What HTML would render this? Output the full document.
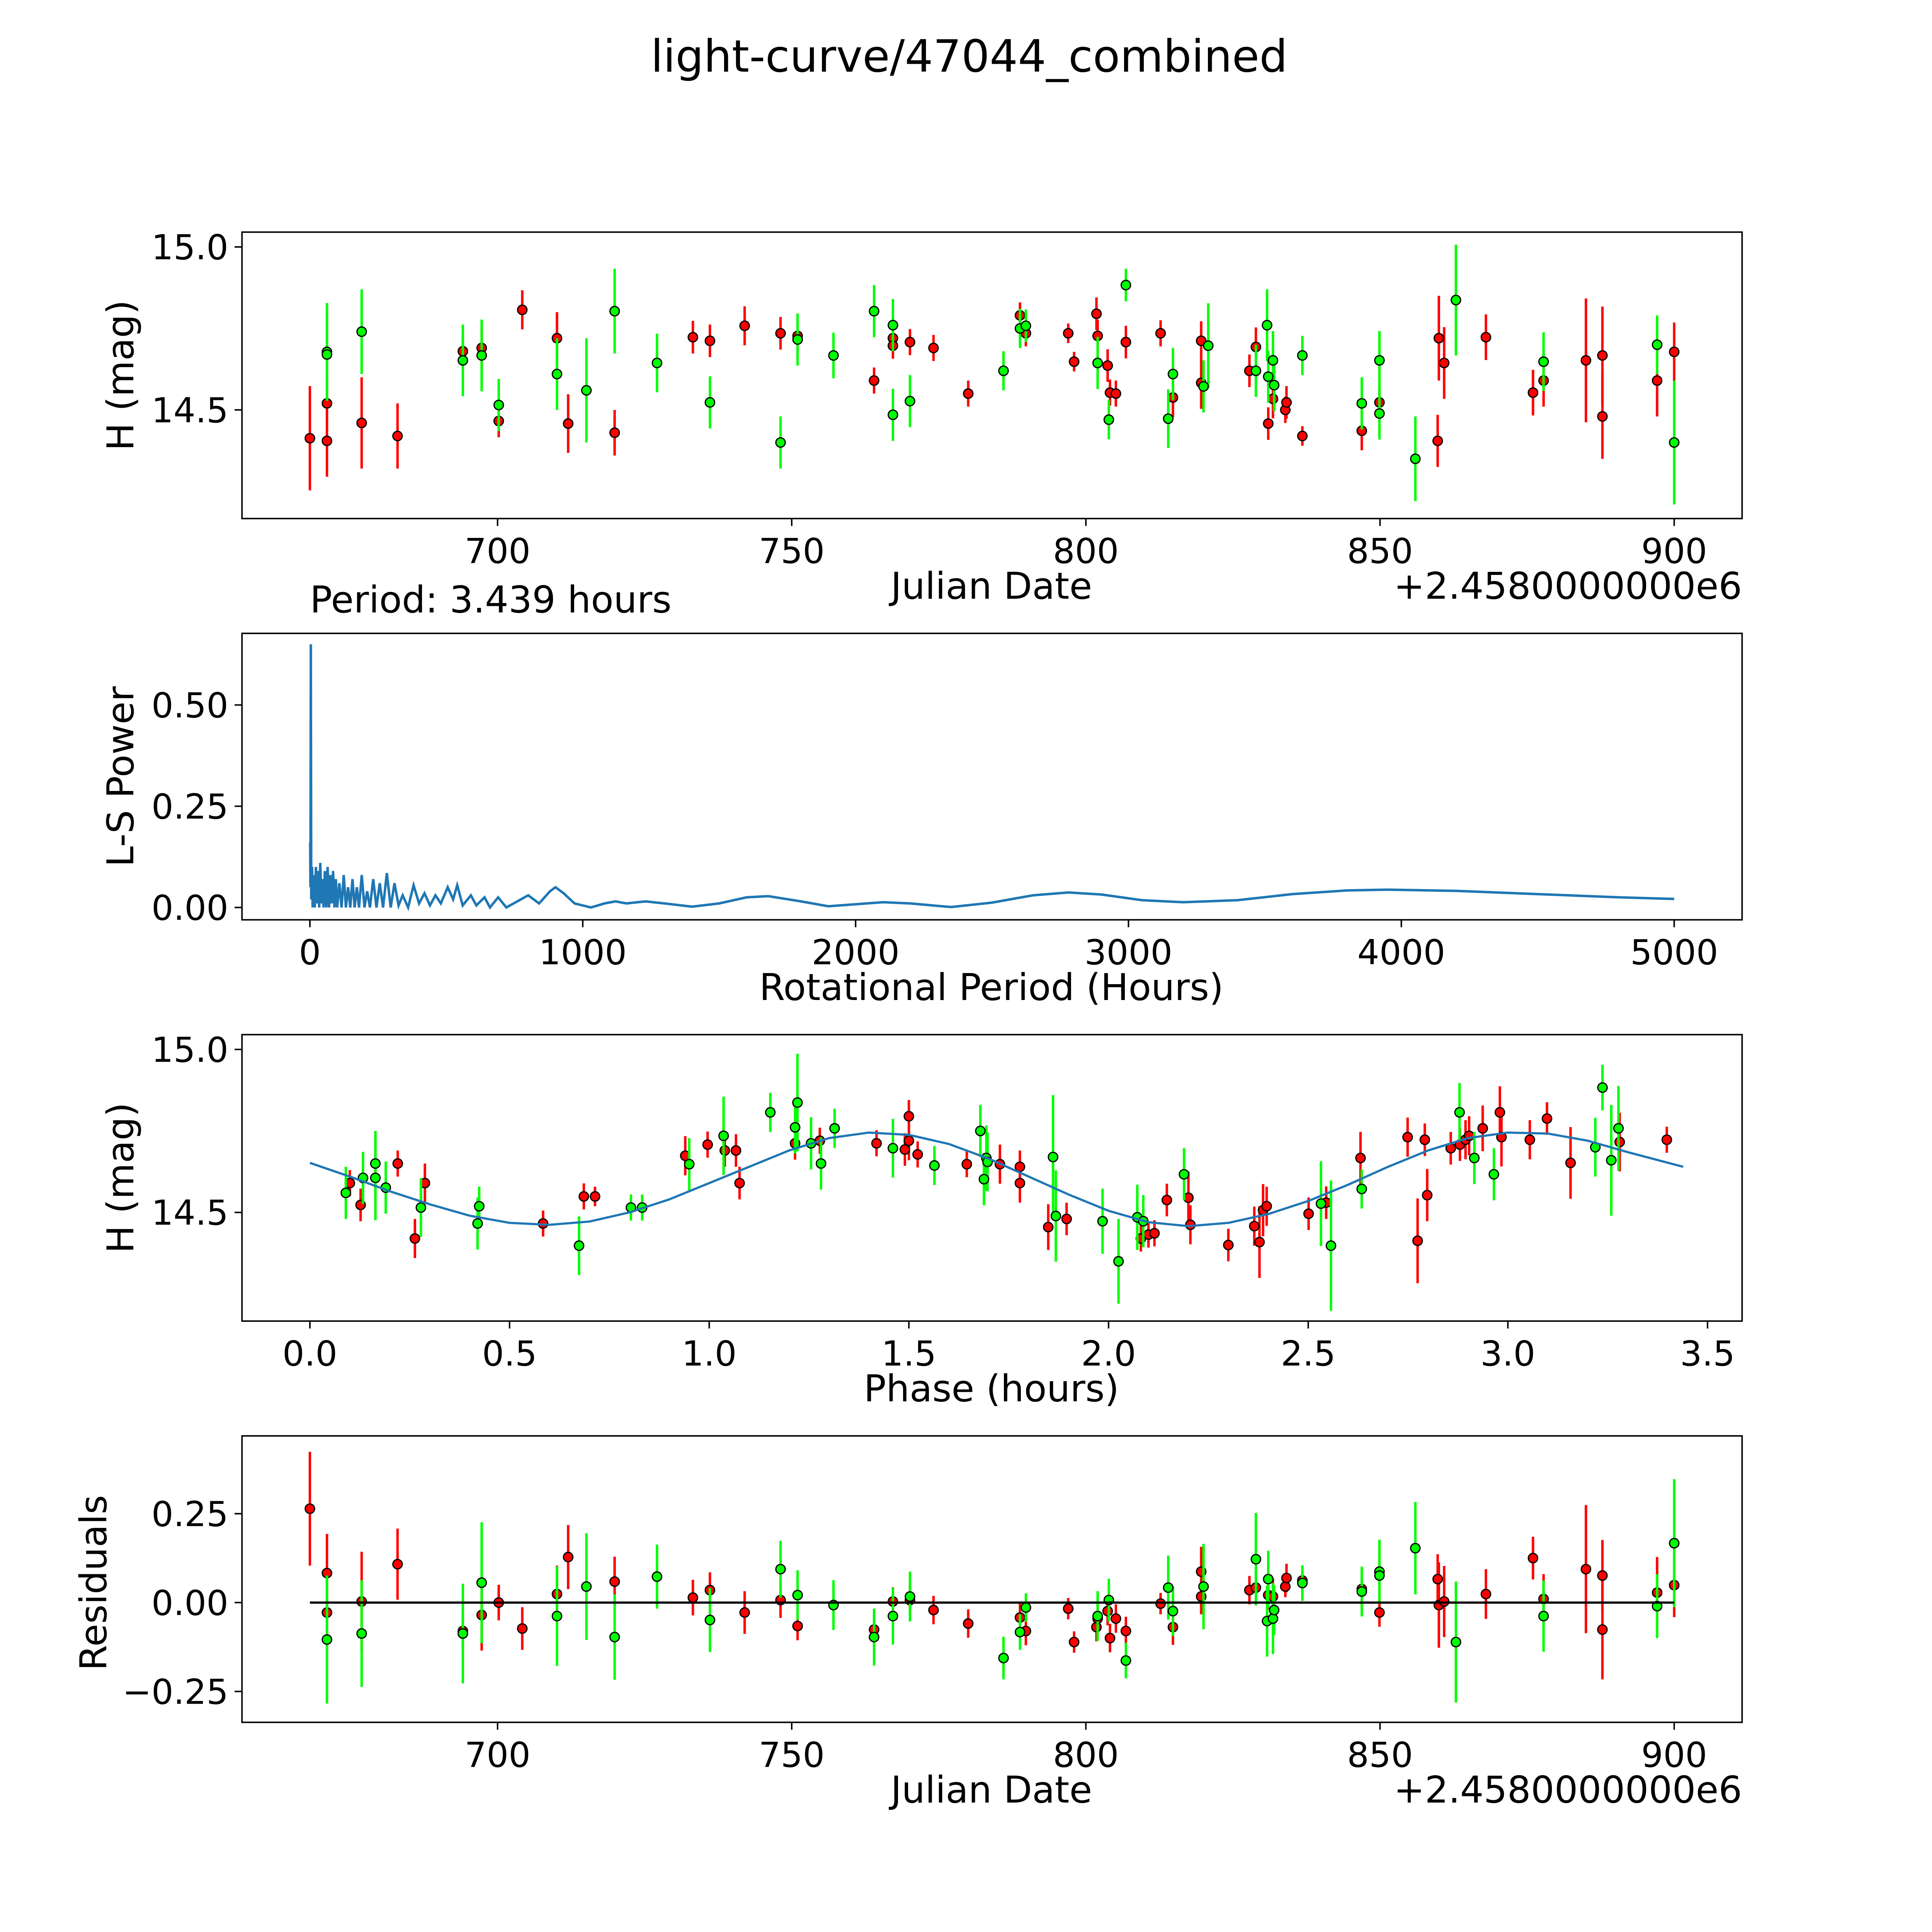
<!DOCTYPE html>
<html><head><meta charset="utf-8"><style>
html,body{margin:0;padding:0;background:#fff;overflow:hidden;width:5400px;height:5400px}
svg{display:block}
text{font-family:"DejaVu Sans","Liberation Sans",sans-serif;fill:#000}
</style></head><body>
<svg id="fig" width="5400" height="5400" viewBox="0 0 1690 1690" xmlns="http://www.w3.org/2000/svg">
<rect width="1690" height="1690" fill="#fff"/>
<text x="785" y="58" font-size="36" text-anchor="middle">light-curve/47044_combined</text>
</svg>
<script>
// ---------- data ----------
const lcRedJD=[668.1,671.0,671.0,676.9,683.0,694.1,697.3,700.2,704.2,710.1,712.0,719.9,733.2,736.1,742.0,748.1,751.0,764.0,767.2,767.2,770.1,774.1,780.0,788.8,789.8,797.0,798.0,801.8,802.0,803.7,804.1,805.1,806.8,812.7,814.8,819.6,819.6,827.8,828.9,831.0,831.8,833.9,834.1,836.8,846.9,849.9,859.8,860.0,860.9,868.0,876.0,877.8,885.0,887.8,887.8,897.1,900.0];
const lcRedMag=[14.413,14.52,14.405,14.46,14.42,14.68,14.69,14.466,14.807,14.72,14.458,14.43,14.723,14.712,14.758,14.735,14.727,14.59,14.72,14.697,14.708,14.69,14.55,14.79,14.735,14.735,14.648,14.795,14.727,14.636,14.553,14.55,14.708,14.735,14.538,14.712,14.583,14.62,14.693,14.458,14.534,14.5,14.523,14.42,14.436,14.523,14.405,14.72,14.644,14.723,14.553,14.59,14.652,14.667,14.48,14.59,14.678];
const lcRedErr=[0.16,0.08,0.11,0.14,0.1,0.06,0.06,0.05,0.06,0.08,0.09,0.07,0.05,0.05,0.06,0.05,0.04,0.04,0.04,0.04,0.04,0.04,0.04,0.04,0.04,0.03,0.03,0.05,0.05,0.05,0.04,0.04,0.05,0.04,0.06,0.06,0.08,0.05,0.06,0.05,0.06,0.04,0.05,0.03,0.06,0.05,0.08,0.13,0.11,0.07,0.07,0.08,0.19,0.15,0.13,0.11,0.09];
const lcGreenJD=[671.0,671.0,676.9,694.1,697.3,700.2,710.1,715.1,719.9,727.1,736.1,748.1,751.0,757.1,764.0,767.2,767.2,770.1,786.0,788.8,789.8,802.0,803.9,806.8,814.0,814.8,820.0,820.8,828.9,830.8,831.0,831.8,832.0,836.8,846.9,849.9,849.9,856.0,862.9,877.8,897.1,900.0];
const lcGreenMag=[14.678,14.67,14.74,14.652,14.667,14.515,14.61,14.56,14.803,14.644,14.523,14.40,14.716,14.667,14.803,14.76,14.485,14.527,14.62,14.75,14.758,14.644,14.47,14.883,14.473,14.61,14.572,14.697,14.62,14.76,14.602,14.652,14.576,14.667,14.52,14.652,14.489,14.35,14.837,14.648,14.70,14.40];
const lcGreenErr=[0.15,0.14,0.13,0.11,0.11,0.08,0.11,0.16,0.13,0.09,0.08,0.08,0.08,0.07,0.08,0.08,0.08,0.08,0.06,0.06,0.05,0.08,0.06,0.05,0.09,0.08,0.08,0.13,0.08,0.11,0.08,0.09,0.08,0.06,0.08,0.09,0.08,0.13,0.17,0.09,0.09,0.19];

const lsPeriod=[1,2,3.439,5,8,10,14,18,22,26,30,34,38,42,46,50,55,60,65,70,75,80,85,90,95,100,108,116,124,132,140,148,156,164,172,180,190,200,210,220,232,244,256,268,282,296,310,325,340,360,380,400,420,440,460,480,505,525,540,560,590,610,640,660,690,720,760,800,840,880,900,930,970,1030,1080,1120,1160,1230,1300,1400,1500,1600,1680,1800,1900,2000,2100,2200,2350,2500,2650,2780,2900,3050,3200,3400,3600,3800,3950,4200,4500,4800,5000];
const lsPower=[0.16,0.05,0.65,0.02,0.1,0.0,0.08,0.0,0.1,0.01,0.09,0.0,0.11,0.01,0.07,0.0,0.09,0.0,0.1,0.0,0.08,0.01,0.09,0.0,0.07,0.0,0.06,0.0,0.08,0.0,0.05,0.0,0.07,0.0,0.05,0.0,0.08,0.0,0.04,0.0,0.07,0.0,0.06,0.0,0.085,0.0,0.06,0.005,0.03,0.0,0.055,0.01,0.035,0.005,0.03,0.01,0.05,0.02,0.055,0.005,0.03,0.005,0.025,0.0,0.025,0.0,0.015,0.03,0.01,0.04,0.05,0.035,0.01,0.0,0.01,0.015,0.01,0.015,0.01,0.002,0.01,0.025,0.028,0.015,0.003,0.008,0.013,0.01,0.001,0.012,0.03,0.037,0.032,0.018,0.013,0.018,0.033,0.042,0.044,0.041,0.033,0.025,0.021];

const phRedX=[0.10,0.127,0.22,0.263,0.288,0.584,0.686,0.714,0.94,0.996,1.039,1.067,1.076,1.215,1.277,1.419,1.49,1.5,1.5,1.522,1.645,1.728,1.778,1.778,1.849,1.895,2.081,2.1,2.115,2.146,2.2,2.205,2.3,2.365,2.378,2.387,2.396,2.501,2.545,2.631,2.749,2.774,2.792,2.798,2.857,2.88,2.894,2.903,2.937,2.98,2.984,3.055,3.098,3.157,3.28,3.398];
const phRedMag=[14.59,14.523,14.65,14.42,14.59,14.466,14.549,14.549,14.674,14.708,14.69,14.69,14.59,14.712,14.72,14.712,14.693,14.795,14.72,14.678,14.648,14.648,14.64,14.59,14.455,14.48,14.42,14.432,14.436,14.538,14.545,14.462,14.4,14.458,14.409,14.507,14.519,14.496,14.53,14.667,14.731,14.413,14.723,14.553,14.697,14.708,14.723,14.735,14.758,14.807,14.731,14.723,14.788,14.652,14.716,14.723];
const phRedErr=[0.04,0.05,0.04,0.06,0.06,0.04,0.04,0.03,0.06,0.04,0.05,0.05,0.05,0.05,0.04,0.04,0.05,0.05,0.06,0.04,0.04,0.06,0.05,0.06,0.07,0.05,0.04,0.04,0.04,0.05,0.08,0.06,0.05,0.06,0.11,0.08,0.06,0.05,0.05,0.08,0.06,0.13,0.05,0.08,0.05,0.05,0.06,0.06,0.07,0.08,0.09,0.06,0.05,0.11,0.09,0.04];
const phGreenX=[0.09,0.133,0.164,0.164,0.19,0.278,0.424,0.42,0.674,0.804,0.832,0.95,1.036,1.153,1.215,1.221,1.255,1.28,1.314,1.46,1.564,1.679,1.688,1.694,1.697,1.861,1.868,1.985,2.025,2.072,2.087,2.189,2.532,2.557,2.634,2.879,2.916,2.965,3.219,3.237,3.259,3.277];
const phGreenMag=[14.56,14.606,14.65,14.606,14.576,14.515,14.519,14.466,14.398,14.515,14.515,14.648,14.735,14.807,14.761,14.837,14.712,14.65,14.758,14.697,14.644,14.75,14.602,14.667,14.655,14.67,14.489,14.473,14.35,14.485,14.473,14.617,14.527,14.398,14.572,14.807,14.667,14.617,14.70,14.883,14.66,14.758];
const phGreenErr=[0.08,0.08,0.1,0.13,0.08,0.09,0.06,0.08,0.09,0.04,0.04,0.08,0.12,0.06,0.08,0.15,0.08,0.08,0.06,0.09,0.06,0.08,0.08,0.1,0.09,0.19,0.14,0.1,0.13,0.1,0.08,0.08,0.13,0.2,0.06,0.09,0.08,0.08,0.09,0.07,0.17,0.13];

const fitPhase=[0.0,0.1,0.2,0.3,0.4,0.5,0.6,0.7,0.8,0.9,1.0,1.1,1.2,1.3,1.4,1.5,1.6,1.7,1.8,1.9,2.0,2.1,2.2,2.3,2.4,2.5,2.6,2.7,2.8,2.9,3.0,3.1,3.2,3.3,3.439];
const fitMag=[14.652,14.61,14.565,14.525,14.49,14.468,14.462,14.472,14.5,14.54,14.59,14.64,14.69,14.728,14.745,14.738,14.71,14.665,14.61,14.555,14.505,14.47,14.458,14.468,14.495,14.535,14.585,14.64,14.69,14.728,14.745,14.742,14.72,14.685,14.64];

const resRedJD=[668.1,671.0,671.0,676.9,683.0,694.1,697.3,700.2,704.2,710.1,712.0,719.9,733.2,736.1,742.0,748.1,751.0,764.0,767.2,770.1,774.1,780.0,788.8,789.8,797.0,798.0,801.8,802.0,803.7,804.1,805.1,806.8,812.7,814.8,819.6,819.6,827.8,828.9,831.0,831.8,833.9,834.1,836.8,846.9,849.9,859.8,860.0,860.9,868.0,876.0,877.8,885.0,887.8,887.8,897.1,900.0];
const resRedVal=[0.264,0.083,-0.028,0.003,0.108,-0.08,-0.035,0.0,-0.073,0.024,0.128,0.059,0.014,0.035,-0.028,0.007,-0.066,-0.076,0.003,0.007,-0.021,-0.059,-0.042,-0.08,-0.017,-0.111,-0.069,-0.045,-0.024,-0.1,-0.045,-0.08,-0.003,-0.069,0.087,0.017,0.035,0.042,0.021,0.017,0.045,0.069,0.062,0.038,-0.028,0.066,-0.007,0.003,0.024,0.125,0.01,0.094,0.076,-0.076,0.028,0.049];
const resRedErr=[0.16,0.11,0.1,0.14,0.1,0.06,0.1,0.05,0.06,0.08,0.09,0.07,0.05,0.05,0.06,0.05,0.04,0.04,0.04,0.04,0.04,0.04,0.04,0.04,0.03,0.03,0.04,0.04,0.04,0.04,0.04,0.04,0.03,0.05,0.07,0.05,0.04,0.05,0.04,0.05,0.03,0.04,0.03,0.05,0.04,0.07,0.12,0.1,0.07,0.06,0.07,0.18,0.1,0.14,0.1,0.09];
const resGreenJD=[671.0,676.9,694.1,697.3,710.1,715.1,719.9,727.1,736.1,748.1,751.0,757.1,764.0,767.2,770.1,786.0,788.8,789.8,802.0,803.9,806.8,814.0,814.8,820.0,828.9,830.8,831.0,831.8,832.0,836.8,846.9,849.9,849.9,856.0,862.9,877.8,897.1,900.0];
const resGreenVal=[-0.104,-0.087,-0.087,0.056,-0.038,0.045,-0.097,0.073,-0.049,0.094,0.021,-0.007,-0.097,-0.038,0.017,-0.156,-0.083,-0.014,-0.038,0.007,-0.163,0.042,-0.024,0.045,0.122,-0.052,0.066,-0.045,-0.021,0.055,0.031,0.087,0.076,0.153,-0.111,-0.038,-0.010,0.167];
const resGreenErr=[0.18,0.15,0.14,0.17,0.14,0.15,0.12,0.09,0.09,0.08,0.07,0.07,0.08,0.08,0.07,0.06,0.05,0.04,0.07,0.06,0.05,0.09,0.07,0.12,0.13,0.1,0.08,0.1,0.07,0.05,0.07,0.09,0.08,0.13,0.17,0.1,0.09,0.18];

const jdTicks=[700,750,800,850,900];
const lcYTicks=[14.5,15.0];
const lsXTicks=[0,1000,2000,3000,4000,5000];
const lsYTicks=[0,0.25,0.5];
const phXTicks=[0,0.5,1.0,1.5,2.0,2.5,3.0,3.5];
const resYTicks=[-0.25,0,0.25];

// ---------- drawing ----------
const NS='http://www.w3.org/2000/svg';
const svg=document.getElementById('fig');
function mk(tag,attrs,parent){const e=document.createElementNS(NS,tag);for(const k in attrs)e.setAttribute(k,attrs[k]);(parent||svg).appendChild(e);return e;}
function lin(d0,d1,p0,p1){return v=>p0+(v-d0)*(p1-p0)/(d1-d0);}
const L=196,R=1411;
function frame(g,top,bot){
  const r=mk('rect',{x:L,y:top,width:R-L,height:bot-top,fill:'none',stroke:'#000','stroke-width':1.2},g);
  
  
}
function xticks(g,ticks,sx,bot,fmt){
  ticks.forEach(t=>{
    const x=sx(t);
    const l=mk('line',{x1:x,x2:x,y1:bot,y2:bot+6,stroke:'#000','stroke-width':1.2},g);
    
    
    const tx=mk('text',{x:x,y:bot+36,'font-size':28,'text-anchor':'middle'},g);
    tx.textContent=fmt(t);
    
    
  });
}
function yticks(g,ticks,sy,fmt){
  ticks.forEach(t=>{
    const y=sy(t);
    const l=mk('line',{x1:L-6,x2:L,y1:y,y2:y,stroke:'#000','stroke-width':1.2},g);
    
    
    const tx=mk('text',{x:L-11,y:y+10,'font-size':28,'text-anchor':'end'},g);
    tx.textContent=fmt(t);
    
    
  });
}
function label(g,txt,x,y,rot,name,anchor){
  const t=mk('text',{x:x,y:y,'font-size':30,'text-anchor':anchor||'middle'},g);
  if(rot)t.setAttribute('transform','rotate(-90 '+x+' '+y+')');
  t.textContent=txt;
  
  
}
function points(g,xs,ys,es,sx,sy,color,name){
  xs.forEach((v,i)=>{
    const x=sx(v);
    const eb=mk('line',{x1:x,x2:x,y1:sy(ys[i]-es[i]),y2:sy(ys[i]+es[i]),stroke:color,'stroke-width':2},g);
    
    
  });
  xs.forEach((v,i)=>{
    const c=mk('circle',{cx:sx(v),cy:sy(ys[i]),r:3.8,fill:color,stroke:'#000','stroke-width':1},g);
    
    
  });
}
const f1=v=>v.toFixed(1), f0=v=>String(v), f2=v=>(v<0?'\u2212':'')+Math.abs(v).toFixed(2);

// Panel 1
{
  const g=mk('g',{});
  
  
  const sx=lin(700,900,403,1356), sy=lin(14.5,15.0,332,200);
  points(g,lcRedJD,lcRedMag,lcRedErr,sx,sy,'#ff0000','red-filter');
  points(g,lcGreenJD,lcGreenMag,lcGreenErr,sx,sy,'#00ff00','green-filter');
  frame(g,188,420);
  xticks(g,jdTicks,sx,420,f0);
  yticks(g,lcYTicks,sy,f1);
  label(g,'Julian Date',803,485,false,'x-axis-title');
  label(g,'+2.4580000000e6',1411,485,false,'x-axis-offset','end');
  label(g,'H (mag)',108,304,true,'y-axis-title');
}
// Panel 2
{
  const g=mk('g',{});
  
  
  const sx=lin(0,5000,251,1356), sy=lin(0,0.5,735,571);
  const d=lsPeriod.map((p,i)=>(i?'L':'M')+sx(p).toFixed(2)+' '+sy(lsPower[i]).toFixed(2)).join(' ');
  const p=mk('path',{d:d,fill:'none',stroke:'#1f77b4','stroke-width':2},g);
  
  
  frame(g,513,745);
  xticks(g,lsXTicks,sx,745,f0);
  yticks(g,lsYTicks,sy,f2);
  label(g,'Rotational Period (Hours)',803,810,false,'x-axis-title');
  label(g,'L-S Power',108,629,true,'y-axis-title');
  label(g,'Period: 3.439 hours',251,496,false,'period-annotation','start');
}
// Panel 3
{
  const g=mk('g',{});
  
  
  const sx=lin(0,3.5,251,1383), sy=lin(14.5,15.0,982,850);
  points(g,phRedX,phRedMag,phRedErr,sx,sy,'#ff0000','red-filter');
  points(g,phGreenX,phGreenMag,phGreenErr,sx,sy,'#00ff00','green-filter');
  const d=fitPhase.map((p,i)=>(i?'L':'M')+sx(p).toFixed(2)+' '+sy(fitMag[i]).toFixed(2)).join(' ');
  const p=mk('path',{d:d,fill:'none',stroke:'#1f77b4','stroke-width':1.8},g);
  
  
  frame(g,838,1070);
  xticks(g,phXTicks,sx,1070,f1);
  yticks(g,lcYTicks,sy,f1);
  label(g,'Phase (hours)',803,1135,false,'x-axis-title');
  label(g,'H (mag)',108,954,true,'y-axis-title');
}
// Panel 4
{
  const g=mk('g',{});
  
  
  const sx=lin(700,900,403,1356), sy=lin(0,0.25,1298,1226);
  points(g,resRedJD,resRedVal,resRedErr,sx,sy,'#ff0000','red-filter');
  points(g,resGreenJD,resGreenVal,resGreenErr,sx,sy,'#00ff00','green-filter');
  const z=mk('line',{x1:sx(668.1),x2:sx(900),y1:sy(0),y2:sy(0),stroke:'#000','stroke-width':1.8},g);
  
  
  frame(g,1163,1395);
  xticks(g,jdTicks,sx,1395,f0);
  yticks(g,resYTicks,sy,f2);
  label(g,'Julian Date',803,1460,false,'x-axis-title');
  label(g,'+2.4580000000e6',1411,1460,false,'x-axis-offset','end');
  label(g,'Residuals',86,1282,true,'y-axis-title');
}
</script>
</body></html>
